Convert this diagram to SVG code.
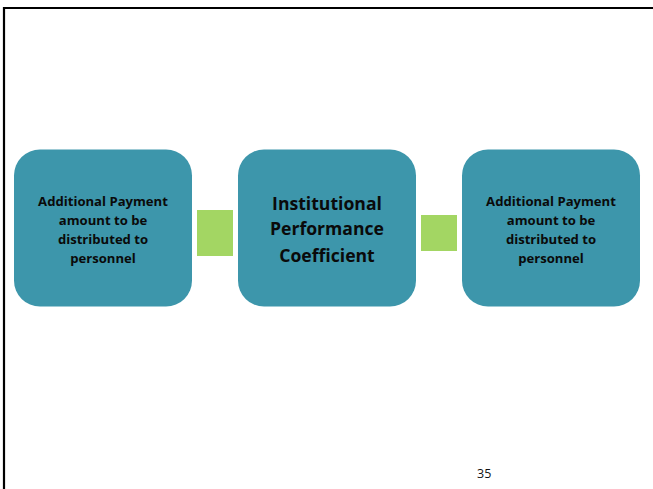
<svg xmlns="http://www.w3.org/2000/svg" width="653" height="489" viewBox="0 0 653 489">
  <style>
    .box { fill: #3d96ab; }
    .link { fill: #a3d663; }
    .t { font-family: "Open Sans", Lato, "Liberation Sans", sans-serif; font-weight: bold; fill: #0a0a0a; text-anchor: middle; }
    .small { font-size: 13.1px; }
    .big { font-size: 17.6px; }
    .num { font-family: "Open Sans", "Liberation Sans", sans-serif; font-size: 12.5px; fill: #111; }
  </style>
  <rect width="653" height="489" fill="#ffffff"/>
  <!-- page frame -->
  <path d="M4,489 V8 H653" fill="none" stroke="#000" stroke-width="2.2"/>

  <g id="connectors">
    <rect class="link" x="197" y="210" width="36" height="46"/>
    <rect class="link" x="421" y="215" width="36" height="36"/>
  </g>

  <g id="node-payment-left">
    <rect class="box" x="14" y="149.5" width="178" height="157" rx="26"/>
    <text class="t small" x="103" y="206">Additional Payment</text>
    <text class="t small" x="103" y="225">amount to be</text>
    <text class="t small" x="103" y="244">distributed to</text>
    <text class="t small" x="103" y="263">personnel</text>
  </g>

  <g id="node-coefficient">
    <rect class="box" x="238" y="149.5" width="178" height="157" rx="26"/>
    <text class="t big" x="327" y="210">Institutional</text>
    <text class="t big" x="327" y="235">Performance</text>
    <text class="t big" x="327" y="262">Coefficient</text>
  </g>

  <g id="node-payment-right">
    <rect class="box" x="462" y="149.5" width="178" height="157" rx="26"/>
    <text class="t small" x="551" y="206">Additional Payment</text>
    <text class="t small" x="551" y="225">amount to be</text>
    <text class="t small" x="551" y="244">distributed to</text>
    <text class="t small" x="551" y="263">personnel</text>
  </g>

  <text class="num" x="477" y="478">35</text>
</svg>
